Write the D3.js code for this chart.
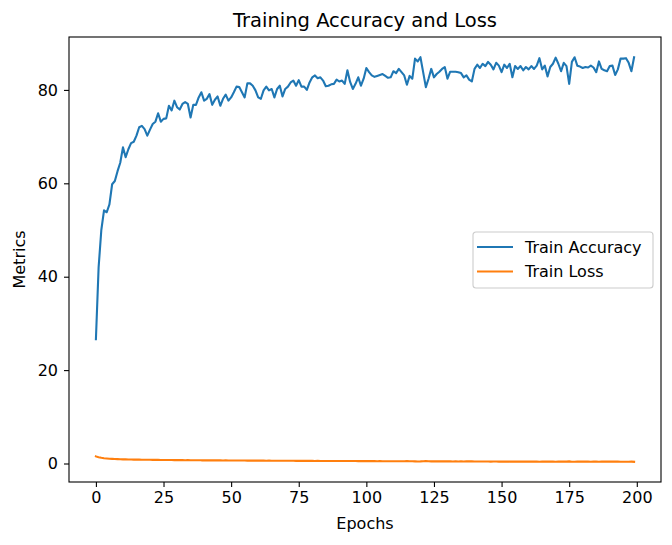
<!DOCTYPE html>
<html>
<head>
<meta charset="utf-8">
<script src="https://cdn.jsdelivr.net/npm/d3@7"></script>
<style>
body { margin: 0; background: white; }
text { font-family: "DejaVu Sans", sans-serif; fill: #000; }
</style>
</head>
<body>
<script>
trainAccuracy = [
        26.6, 42.0, 50.0, 54.2, 53.8, 55.5, 59.8, 60.5, 62.6, 64.4,
        67.7, 65.6, 67.3, 68.6, 68.9, 70.2, 72.0, 72.3, 71.6, 70.2,
        71.5, 72.7, 73.2, 75.0, 73.2, 73.8, 73.9, 76.6, 75.6, 77.7,
        76.3, 75.8, 77.0, 77.4, 77.0, 74.1, 76.8, 76.8, 78.4, 79.5,
        77.7, 78.1, 79.1, 76.8, 77.9, 78.6, 76.6, 78.1, 79.0, 77.7,
        78.4, 79.5, 80.7, 80.6, 79.5, 78.4, 81.4, 81.4, 80.9, 79.9,
        78.4, 78.1, 79.9, 80.7, 79.9, 80.2, 78.4, 80.2, 80.9, 78.6,
        80.2, 80.7, 81.6, 82.0, 80.9, 82.1, 80.7, 80.7, 80.0, 81.6,
        82.7, 83.1, 82.5, 82.7, 82.0, 80.8, 80.9, 81.2, 81.3, 82.2,
        81.8, 82.0, 81.3, 84.2, 81.7, 80.2, 81.3, 82.7, 80.9, 82.4,
        84.7, 83.8, 83.1, 82.8, 83.0, 83.2, 83.4, 83.0, 82.6, 82.7,
        84.0, 83.6, 84.5, 83.8, 83.1, 81.1, 83.0, 82.4, 86.7, 86.1,
        87.0, 83.8, 80.6, 82.4, 84.5, 82.7, 83.4, 83.9, 84.5, 84.9,
        82.4, 83.9, 83.9, 83.9, 83.8, 83.6, 82.7, 83.1, 82.2, 81.8,
        84.5, 85.4, 84.7, 85.6, 85.1, 86.0, 85.4, 84.4, 85.8, 85.2,
        83.8, 85.4, 84.7, 85.6, 82.7, 85.1, 84.5, 85.1, 84.2, 84.9,
        84.4, 85.1, 84.5, 85.2, 86.8, 84.4, 85.2, 82.9, 84.9, 85.6,
        86.9, 85.6, 84.0, 85.8, 85.1, 81.3, 86.0, 87.0, 85.2, 85.0,
        84.7, 84.9, 84.8, 85.2, 84.8, 83.8, 86.1, 84.5, 84.2, 84.0,
        85.1, 85.2, 83.2, 84.4, 86.7, 86.7, 86.8, 85.8, 84.0, 87.0
]

trainLoss = [
        1.52, 1.35, 1.22, 1.14, 1.08, 1.03, 0.99, 0.96, 0.93, 0.91,
        0.89, 0.88, 0.86, 0.85, 0.84, 0.83, 0.82, 0.81, 0.80, 0.80,
        0.79, 0.78, 0.77, 0.77, 0.76, 0.75, 0.75, 0.74, 0.74, 0.73,
        0.73, 0.72, 0.72, 0.71, 0.72, 0.70, 0.70, 0.69, 0.70, 0.68,
        0.68, 0.67, 0.68, 0.67, 0.66, 0.67, 0.66, 0.65, 0.66, 0.65,
        0.64, 0.65, 0.64, 0.63, 0.64, 0.63, 0.62, 0.63, 0.62, 0.62,
        0.61, 0.62, 0.61, 0.60, 0.61, 0.60, 0.60, 0.59, 0.60, 0.59,
        0.58, 0.59, 0.58, 0.58, 0.57, 0.58, 0.57, 0.57, 0.56, 0.57,
        0.56, 0.55, 0.56, 0.55, 0.55, 0.54, 0.55, 0.54, 0.54, 0.53,
        0.54, 0.53, 0.52, 0.53, 0.52, 0.53, 0.52, 0.51, 0.52, 0.51,
        0.50, 0.51, 0.50, 0.50, 0.49, 0.50, 0.49, 0.49, 0.48, 0.49,
        0.48, 0.49, 0.48, 0.47, 0.48, 0.50, 0.47, 0.47, 0.46, 0.44,
        0.45, 0.48, 0.51, 0.48, 0.46, 0.46, 0.45, 0.46, 0.45, 0.45,
        0.46, 0.45, 0.44, 0.45, 0.44, 0.45, 0.44, 0.45, 0.46, 0.47,
        0.43, 0.42, 0.43, 0.42, 0.43, 0.42, 0.41, 0.43, 0.42, 0.41,
        0.43, 0.41, 0.42, 0.41, 0.44, 0.41, 0.42, 0.41, 0.42, 0.41,
        0.42, 0.41, 0.42, 0.41, 0.38, 0.42, 0.41, 0.44, 0.41, 0.40,
        0.39, 0.40, 0.42, 0.40, 0.41, 0.45, 0.39, 0.38, 0.40, 0.40,
        0.40, 0.40, 0.40, 0.39, 0.40, 0.41, 0.38, 0.40, 0.41, 0.41,
        0.40, 0.40, 0.42, 0.40, 0.38, 0.38, 0.38, 0.39, 0.41, 0.37
]

xTicks = [0, 25, 50, 75, 100, 125, 150, 175, 200]
yTicks = [0, 20, 40, 60, 80]
seriesNames = ["Train Accuracy", "Train Loss"]
seriesColors = ["#1f77b4", "#ff7f0e"]

W = 672
H = 545
// axes box (window.top etc. are taken, so own names)
axL = 69
axR = 661
axT = 37
axB = 482
fs = 16

function padded(lo, hi) {
        // matplotlib style 5% margins
        var m = (hi - lo) * 0.05
        return [lo - m, hi + m]
}

epochs = d3.range(trainAccuracy.length)
allValues = trainAccuracy.concat(trainLoss)

x = d3.scaleLinear()
        .domain(padded(0, epochs.length - 1))
        .range([axL, axR])

y = d3.scaleLinear()
        .domain(padded(d3.min(allValues), d3.max(allValues)))
        .range([axB, axT])

svg = d3.select("body").append("svg")
        .attr("width", W)
        .attr("height", H)

svg.append("rect").attr("width", W).attr("height", H).attr("fill", "white")

line = d3.line()
        .x(function(d, i) { return x(i) })
        .y(function(d) { return y(d) })

plot = svg.append("g")

;[trainAccuracy, trainLoss].forEach(function(s, k) {
        plot.append("path")
                .datum(s)
                .attr("fill", "none")
                .attr("stroke", seriesColors[k])
                .attr("stroke-width", 2.1)
                .attr("stroke-linejoin", "round")
                .attr("stroke-linecap", "square")
                .attr("d", line)
})

xAxis = svg.append("g")
        .attr("transform", "translate(0," + axB + ")")
        .call(d3.axisBottom(x).tickValues(xTicks).tickSize(5).tickPadding(5))

yAxis = svg.append("g")
        .attr("transform", "translate(" + axL + ",0)")
        .call(d3.axisLeft(y).tickValues(yTicks).tickSize(5).tickPadding(6))

svg.selectAll(".domain").remove()
svg.selectAll(".tick line").attr("stroke", "#000").attr("stroke-width", 1.1)
svg.selectAll(".tick text")
        .attr("font-size", fs)
        .attr("font-family", "DejaVu Sans")
        .attr("fill", "#000")

// frame
svg.append("rect")
        .attr("x", axL)
        .attr("y", axT)
        .attr("width", axR - axL)
        .attr("height", axB - axT)
        .attr("fill", "none")
        .attr("stroke", "#000")
        .attr("stroke-width", 1.1)

svg.append("text")
        .attr("x", (axL + axR) / 2)
        .attr("y", 27)
        .attr("text-anchor", "middle")
        .attr("font-size", 19.5)
        .text("Training Accuracy and Loss")

svg.append("text")
        .attr("x", (axL + axR) / 2)
        .attr("y", 529)
        .attr("text-anchor", "middle")
        .attr("font-size", fs)
        .text("Epochs")

svg.append("text")
        .attr("transform", "translate(25," + ((axT + axB) / 2) + ") rotate(-90)")
        .attr("text-anchor", "middle")
        .attr("font-size", fs)
        .text("Metrics")

legend = svg.append("g").attr("transform", "translate(473,232)")

legend.append("rect")
        .attr("width", 180)
        .attr("height", 56)
        .attr("rx", 3)
        .attr("fill", "white")
        .attr("fill-opacity", 0.8)
        .attr("stroke", "#cccccc")
        .attr("stroke-width", 1.1)

legend.selectAll("g.item").data(seriesNames)
        .enter().append("g")
        .attr("class", "item")
        .attr("transform", function(d, i) {
                return "translate(0," + (15 + i * 24.5) + ")"
        })
        .each(function(d, i) {
                var g = d3.select(this)
                g.append("line")
                        .attr("x1", 4).attr("x2", 40)
                        .attr("stroke", seriesColors[i])
                        .attr("stroke-width", 2.1)
                g.append("text")
                        .attr("x", 52)
                        .attr("dy", "0.35em")
                        .attr("font-size", fs)
                        .text(d)
        })
</script>
</body>
</html>
